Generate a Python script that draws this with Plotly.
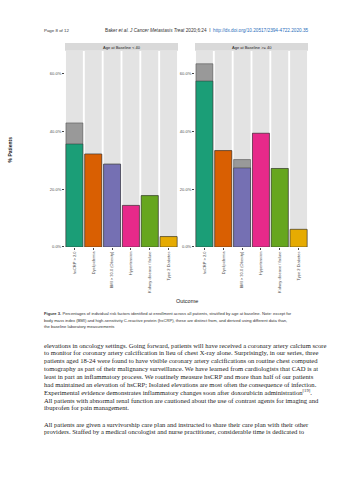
import plotly.graph_objects as go

W, H = 353, 480

categories = ["hsCRP > 2.0", "Dyslipidemia", "BMI > 30.0 (Obesity)", "Hypertension",
              "Kidney disease / failure", "Type 2 Diabetes"]
facet_titles = ["Age at Baseline < 40", "Age at Baseline >= 40"]
young_pct = [35.7, 32.2, 28.7, 14.4, 17.8, 3.6]
young_extra = [7.3, 0, 0, 0, 0, 0]
old_pct = [57.5, 33.4, 27.4, 39.4, 27.2, 6.1]
old_extra = [6.0, 0, 2.9, 0, 0, 0]
colors = ["#1B9E77", "#D95F02", "#7570B3", "#E7298A", "#66A61E", "#E6AB02"]
y_ticks = [0, 20, 40, 60]
y_ticklabels = ["0.0%", "20.0%", "40.0%", "60.0%"]
Y_MAX = 68

def px(x):
    return x / W

def py(y):
    return 1 - y / H

fig = go.Figure()
panels = [(young_pct, young_extra, "x", "y"), (old_pct, old_extra, "x2", "y2")]
for vals, extra, xa, ya in panels:
    fig.add_trace(go.Bar(x=categories, y=[Y_MAX] * len(categories), xaxis=xa, yaxis=ya,
                         marker=dict(color="#e3e3e3", line=dict(width=0)),
                         hoverinfo="skip", showlegend=False))
    fig.add_trace(go.Bar(x=categories, y=[v + e for v, e in zip(vals, extra)], xaxis=xa, yaxis=ya,
                         marker=dict(color="#999999", line=dict(color="#444444", width=0.5)),
                         showlegend=False))
    fig.add_trace(go.Bar(x=categories, y=vals, xaxis=xa, yaxis=ya,
                         marker=dict(color=colors, line=dict(color="#333333", width=0.5)),
                         showlegend=False))

dom1 = [px(65), px(178)]
dom2 = [px(195), px(308)]
ydom = [py(248), py(51)]

SANS = "Liberation Sans, Arial, sans-serif"
SERIF = "Liberation Serif, Times New Roman, serif"

xcommon = dict(type="category", showgrid=False, zeroline=False, ticks="outside", ticklen=2,
               tickcolor="#444", tickwidth=0.5, tickangle=-90,
               tickfont=dict(size=4, color="#4d4d4d", family=SANS), showline=False)
ycommon = dict(range=[0, Y_MAX], tickvals=y_ticks, ticktext=y_ticklabels, showgrid=False,
               zeroline=False, ticks="outside", ticklen=2, tickcolor="#444", tickwidth=0.5,
               tickfont=dict(size=4, color="#4d4d4d", family=SANS), showline=False)

fig.update_layout(
    width=W, height=H, margin=dict(l=0, r=0, t=0, b=0),
    paper_bgcolor="white", plot_bgcolor="rgba(0,0,0,0)",
    barmode="overlay", bargap=0.1,
    xaxis=dict(domain=dom1, anchor="y", **xcommon),
    xaxis2=dict(domain=dom2, anchor="y2", **xcommon),
    yaxis=dict(domain=ydom, anchor="x", **ycommon),
    yaxis2=dict(domain=ydom, anchor="x2", **ycommon),
)

shapes = []
ann = []

def note(text, x, y, size, color="#333", family=SANS, anchor="left", **kw):
    ann.append(dict(text=text, xref="paper", yref="paper", x=px(x), y=py(y),
                    showarrow=False, xanchor=anchor, yanchor="middle",
                    font=dict(size=size, color=color, family=family), **kw))

for dom, title in zip([dom1, dom2], facet_titles):
    shapes.append(dict(type="rect", xref="paper", yref="paper", x0=dom[0], x1=dom[1],
                       y0=py(51), y1=py(43.3), fillcolor="#d9d9d9", line=dict(width=0), layer="below"))
    note(title, (dom[0] + dom[1]) / 2 * W, 47.2, 4, color="#1a1a1a", anchor="center")

note("<b>% Patients</b>", 10, 150, 5, color="#1a1a1a", anchor="center", textangle=-90)
note("Outcome", 187, 302, 5.5, color="#1a1a1a", anchor="center")

# header
note("Page 8 of 12", 42, 31, 4.4)
note("Baker <i>et al. J Cancer Metastasis Treat</i> 2020;6:24  I  "
     "<span style='color:#2a6ebb'>http://dx.doi.org/10.20517/2394-4722.2020.35</span>",
     103, 31, 4.7)

caption = [
    "<b>Figure 3.</b> Percentages of individual risk factors identified at enrollment across all patients, stratified by age at baseline. Note: except for",
    "body mass index (BMI) and high-sensitivity C-reactive protein (hsCRP), these are distinct from, and derived using different data than,",
    "the baseline laboratory measurements",
]
for i, line in enumerate(caption):
    note(line, 42, 315 + 6.5 * i, 4.15)

body1 = [
    "elevations in oncology settings. Going forward, patients will have received a coronary artery calcium score",
    "to monitor for coronary artery calcification in lieu of chest X-ray alone. Surprisingly, in our series, three",
    "patients aged 18-24 were found to have visible coronary artery calcifications on routine chest computed",
    "tomography as part of their malignancy surveillance. We have learned from cardiologists that CAD is at",
    "least in part an inflammatory process. We routinely measure hsCRP and more than half of our patients",
    "had maintained an elevation of hsCRP; Isolated elevations are most often the consequence of infection.",
    "Experimental evidence demonstrates inflammatory changes soon after doxorubicin administration<sup>[19]</sup>.",
    "All patients with abnormal renal function are cautioned about the use of contrast agents for imaging and",
    "ibuprofen for pain management.",
]
body2 = [
    "All patients are given a survivorship care plan and instructed to share their care plan with their other",
    "providers. Staffed by a medical oncologist and nurse practitioner, considerable time is dedicated to",
]
for i, line in enumerate(body1):
    note(line, 42, 346.5 + 7.9 * i, 6.6, color="#222", family=SERIF)
for i, line in enumerate(body2):
    note(line, 42, 425.8 + 7.9 * i, 6.6, color="#222", family=SERIF)

fig.update_layout(shapes=shapes, annotations=ann)
fig.write_html("out.html")
